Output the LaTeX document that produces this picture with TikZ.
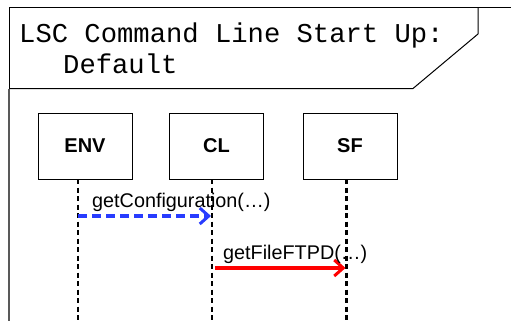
\documentclass[tikz,border=0pt]{standalone}
\usepackage{fontspec}
\setmainfont{Liberation Sans}
\newfontfamily\monofont{Liberation Mono}
\usetikzlibrary{arrows.meta}
\begin{document}
\begin{tikzpicture}[x=1pt,y=-1pt,
  objbox/.style={draw, line width=1pt, minimum width=94pt, minimum height=66pt,
    inner sep=0pt, font=\bfseries\fontsize{20}{22}\selectfont},
  lifeline/.style={line width=2.6pt, dash pattern=on 5pt off 3.5pt},
  msglabel/.style={font=\fontsize{19.8}{22}\selectfont, anchor=base west, inner sep=0pt},
  barb/.style={-{Straight Barb[length=9pt,width=16pt,line width=3pt]}, line width=3.4pt}
]
\useasboundingbox (0,0) rectangle (511,321);

% frame and title tab
\draw[line width=1pt] (9,321) -- (9,8) -- (511,8);
\draw[line width=1pt] (478,8) -- (478,34) -- (413,88.5) -- (9,88.5);
\draw[gray!70!black, line width=1.6pt] (9,88.5) -- (9,321);
\node[anchor=base west, inner sep=0pt, font=\monofont\fontsize{27.2}{30}\selectfont]
  (title1) at (19,43) {LSC Command Line Start Up:};
\node[anchor=base west, inner sep=0pt, font=\monofont\fontsize{27.2}{30}\selectfont]
  (title2) at (63,74) {Default};

% instances
\node[objbox] (env) at (85,146) {ENV};
\node[objbox] (cl) at (216.5,146) {CL};
\node[objbox] (sf) at (350,146) {SF};

% lifelines
\coordinate (envtop) at (78,179);
\coordinate (cltop) at (212,179);
\coordinate (sftop) at (346.5,179);
\coordinate (envend) at (78,320);
\coordinate (clend) at (212,320);
\coordinate (sfend) at (346.5,320);
\draw[lifeline] (envtop) -- (envend);
\draw[lifeline] (cltop) -- (clend);
\draw[lifeline] (sftop) -- (sfend);

% messages
\coordinate (m1s) at (78,216);
\coordinate (m1e) at (211,216);
\coordinate (m2s) at (215,268);
\coordinate (m2e) at (345.5,268);
\draw[barb, color={rgb,255:red,40;green,60;blue,255}, dash pattern=on 9pt off 5pt] (m1s) -- (m1e);
\draw[barb, color={rgb,255:red,255;green,0;blue,0}] (m2s) -- (m2e);
\node[msglabel] (l1) at (92,207) {getConfiguration(\ldots)};
\node[msglabel] (l2) at (223,259) {getFileFTPD(\ldots)};
\end{tikzpicture}
\end{document}
